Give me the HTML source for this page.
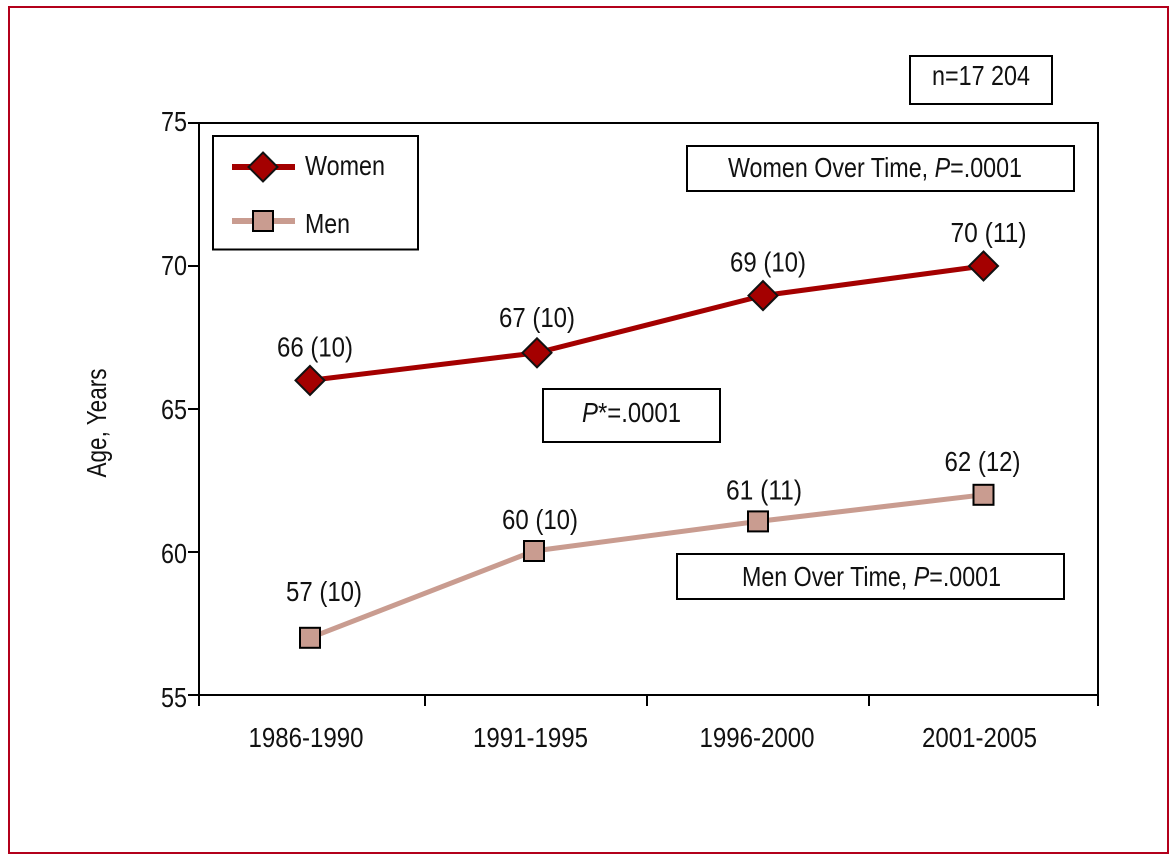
<!DOCTYPE html>
<html lang="en">
<head>
<meta charset="utf-8">
<title>Age Over Time by Sex</title>
<style>
html,body{margin:0;padding:0;background:#fff;}
svg{display:block;}
text{font-family:"Liberation Sans",Arial,sans-serif;font-size:28px;fill:#111;}
</style>
</head>
<body>
<svg id="chart" xmlns="http://www.w3.org/2000/svg" width="1176" height="861" viewBox="0 0 1176 861">
  <rect x="0" y="0" width="1176" height="861" fill="#fff"/>
  <rect x="9" y="7" width="1159" height="846" fill="none" stroke="#b3001b" stroke-width="2"/>

  <g id="axes"></g>
  <g id="series"></g>

  <text transform="translate(106 423) rotate(-90)" text-anchor="middle" textLength="109" lengthAdjust="spacingAndGlyphs">Age, Years</text>

  <g>
    <rect x="213" y="136" width="205" height="113.500" fill="#fff" stroke="#000" stroke-width="2"/>
    <g>
      <line x1="232" y1="167" x2="295" y2="167" stroke="#a40000" stroke-width="6"/>
      <polygon points="263,152.500 277.500,167 263,181.500 248.500,167" fill="#a40000" stroke="#111" stroke-width="2"/>
      <text x="305" y="175" textLength="80" lengthAdjust="spacingAndGlyphs">Women</text>
    </g>
    <g>
      <line x1="232" y1="221" x2="295" y2="221" stroke="#c99c90" stroke-width="6"/>
      <rect x="253" y="211" width="20" height="20" fill="#c99c90" stroke="#000" stroke-width="2"/>
      <text x="305" y="233" textLength="45" lengthAdjust="spacingAndGlyphs">Men</text>
    </g>
  </g>

  <g>
    <rect x="910" y="56" width="142" height="48" fill="#fff" stroke="#000" stroke-width="2"/>
    <text x="932" y="85" textLength="98" lengthAdjust="spacingAndGlyphs">n=17 204</text>
  </g>
  <g>
    <rect x="687" y="146" width="387" height="45" fill="#fff" stroke="#000" stroke-width="2"/>
    <text x="728" y="177" textLength="294" lengthAdjust="spacingAndGlyphs">Women Over Time, <tspan font-style="italic">P</tspan>=.0001</text>
  </g>
  <g>
    <rect x="543" y="389" width="177" height="53" fill="#fff" stroke="#000" stroke-width="2"/>
    <text x="582" y="422" textLength="99" lengthAdjust="spacingAndGlyphs"><tspan font-style="italic">P</tspan>*=.0001</text>
  </g>
  <g>
    <rect x="677" y="554" width="387" height="45" fill="#fff" stroke="#000" stroke-width="2"/>
    <text x="742" y="586" textLength="259" lengthAdjust="spacingAndGlyphs">Men Over Time, <tspan font-style="italic">P</tspan>=.0001</text>
  </g>
</svg>
<script>
const categories = ["1986-1990", "1991-1995", "1996-2000", "2001-2005"];
const yTicks = [55, 60, 65, 70, 75];
const womenValues = [66, 67, 69, 70];
const menValues = [57, 60, 61, 62];
const womenLabels = ["66 (10)", "67 (10)", "69 (10)", "70 (11)"];
const menLabels = ["57 (10)", "60 (10)", "61 (11)", "62 (12)"];

const NS = "http://www.w3.org/2000/svg";
const plot = { left: 199, right: 1098, top: 123, bottom: 695 };
const WOMEN_COLOR = "#a40000";
const MEN_COLOR = "#c99c90";

function xScale(i) {
  return 310 + i * (983.5 - 310) / (categories.length - 1);
}
function yScale(v) {
  return plot.bottom - (v - 55) * (plot.bottom - plot.top) / (75 - 55);
}
// The source artwork places markers slightly off the ideal grid; these are small layout offsets.
function womenX(i) { return xScale(i) + (i === 1 ? 2.5 : i === 2 ? 4 : 0); }
function womenY(i) { return yScale(womenValues[i]) + (i === 1 ? 1 : i === 2 ? 1 : 0); }
function menX(i) { return xScale(i) + (i === 1 ? -0.5 : i === 2 ? -1 : 0); }
function menY(i) { return yScale(menValues[i]) + (i === 1 ? -1 : i === 2 ? -2 : 0); }

function make(tag, attrs, parent) {
  const el = document.createElementNS(NS, tag);
  for (const k in attrs) el.setAttribute(k, attrs[k]);
  parent.appendChild(el);
  return el;
}

const axes = document.getElementById("axes");
const series = document.getElementById("series");

const frameAxis = make("rect", { x: plot.left, y: plot.top, width: plot.right - plot.left, height: plot.bottom - plot.top, fill: "none", stroke: "#000", "stroke-width": 2 }, axes);



yTicks.forEach(function (t) {
  const y = yScale(t);
  const tick = make("line", { x1: plot.left - 11, x2: plot.left, y1: y, y2: y, stroke: "#000", "stroke-width": 2 }, axes);
  
  
  const label = make("text", { x: 161, y: y + 8 + (75 - t) * 0.2, textLength: 26, lengthAdjust: "spacingAndGlyphs" }, axes);
  label.textContent = String(t);
  
  
});

// Inner ticks are evenly spaced; the end ticks coincide with the plot edges.
for (let i = 0; i <= categories.length; i++) {
  let x;
  if (i === 0) x = plot.left;
  else if (i === categories.length) x = plot.right;
  else x = 425 + (i - 1) * 222;
  const tick = make("line", { x1: x, x2: x, y1: plot.bottom, y2: plot.bottom + 11, stroke: "#000", "stroke-width": 2 }, axes);
  
  
}

categories.forEach(function (c, i) {
  const label = make("text", { x: xScale(i) - 4 + (i === 2 ? 2 : 0), y: 747, "text-anchor": "middle", textLength: 115, lengthAdjust: "spacingAndGlyphs" }, axes);
  label.textContent = c;
  
  
});

const menLine = make("polyline", { points: menValues.map(function (v, i) { return menX(i) + "," + menY(i); }).join(" "), fill: "none", stroke: MEN_COLOR, "stroke-width": 5 }, series);



const womenLine = make("polyline", { points: womenValues.map(function (v, i) { return womenX(i) + "," + womenY(i); }).join(" "), fill: "none", stroke: WOMEN_COLOR, "stroke-width": 5 }, series);



menValues.forEach(function (v, i) {
  const x = menX(i), y = menY(i);
  const m = make("rect", { x: x - 10, y: y - 10, width: 20, height: 20, fill: MEN_COLOR, stroke: "#000", "stroke-width": 2 }, series);
  
  
  const dy = i === 0 ? -37 : i === categories.length - 1 ? -24 : -22;
  const dx = i === 0 ? 14 : (i === categories.length - 1 ? -1 : 6);
  const t = make("text", { x: x + dx, y: y + dy, "text-anchor": "middle", textLength: 76, lengthAdjust: "spacingAndGlyphs" }, series);
  t.textContent = menLabels[i];
  
  
});

womenValues.forEach(function (v, i) {
  const x = womenX(i), y = womenY(i);
  const pts = [[x, y - 14.5], [x + 14.5, y], [x, y + 14.5], [x - 14.5, y]].map(function (p) { return p.join(","); }).join(" ");
  const m = make("polygon", { points: pts, fill: WOMEN_COLOR, stroke: "#111", "stroke-width": 2 }, series);
  
  
  const t = make("text", { x: x + (i === 1 ? 0 : 5), y: y - (i === 1 ? 26 : 24), "text-anchor": "middle", textLength: 76, lengthAdjust: "spacingAndGlyphs" }, series);
  t.textContent = womenLabels[i];
  
  
});
</script>
</body>
</html>
